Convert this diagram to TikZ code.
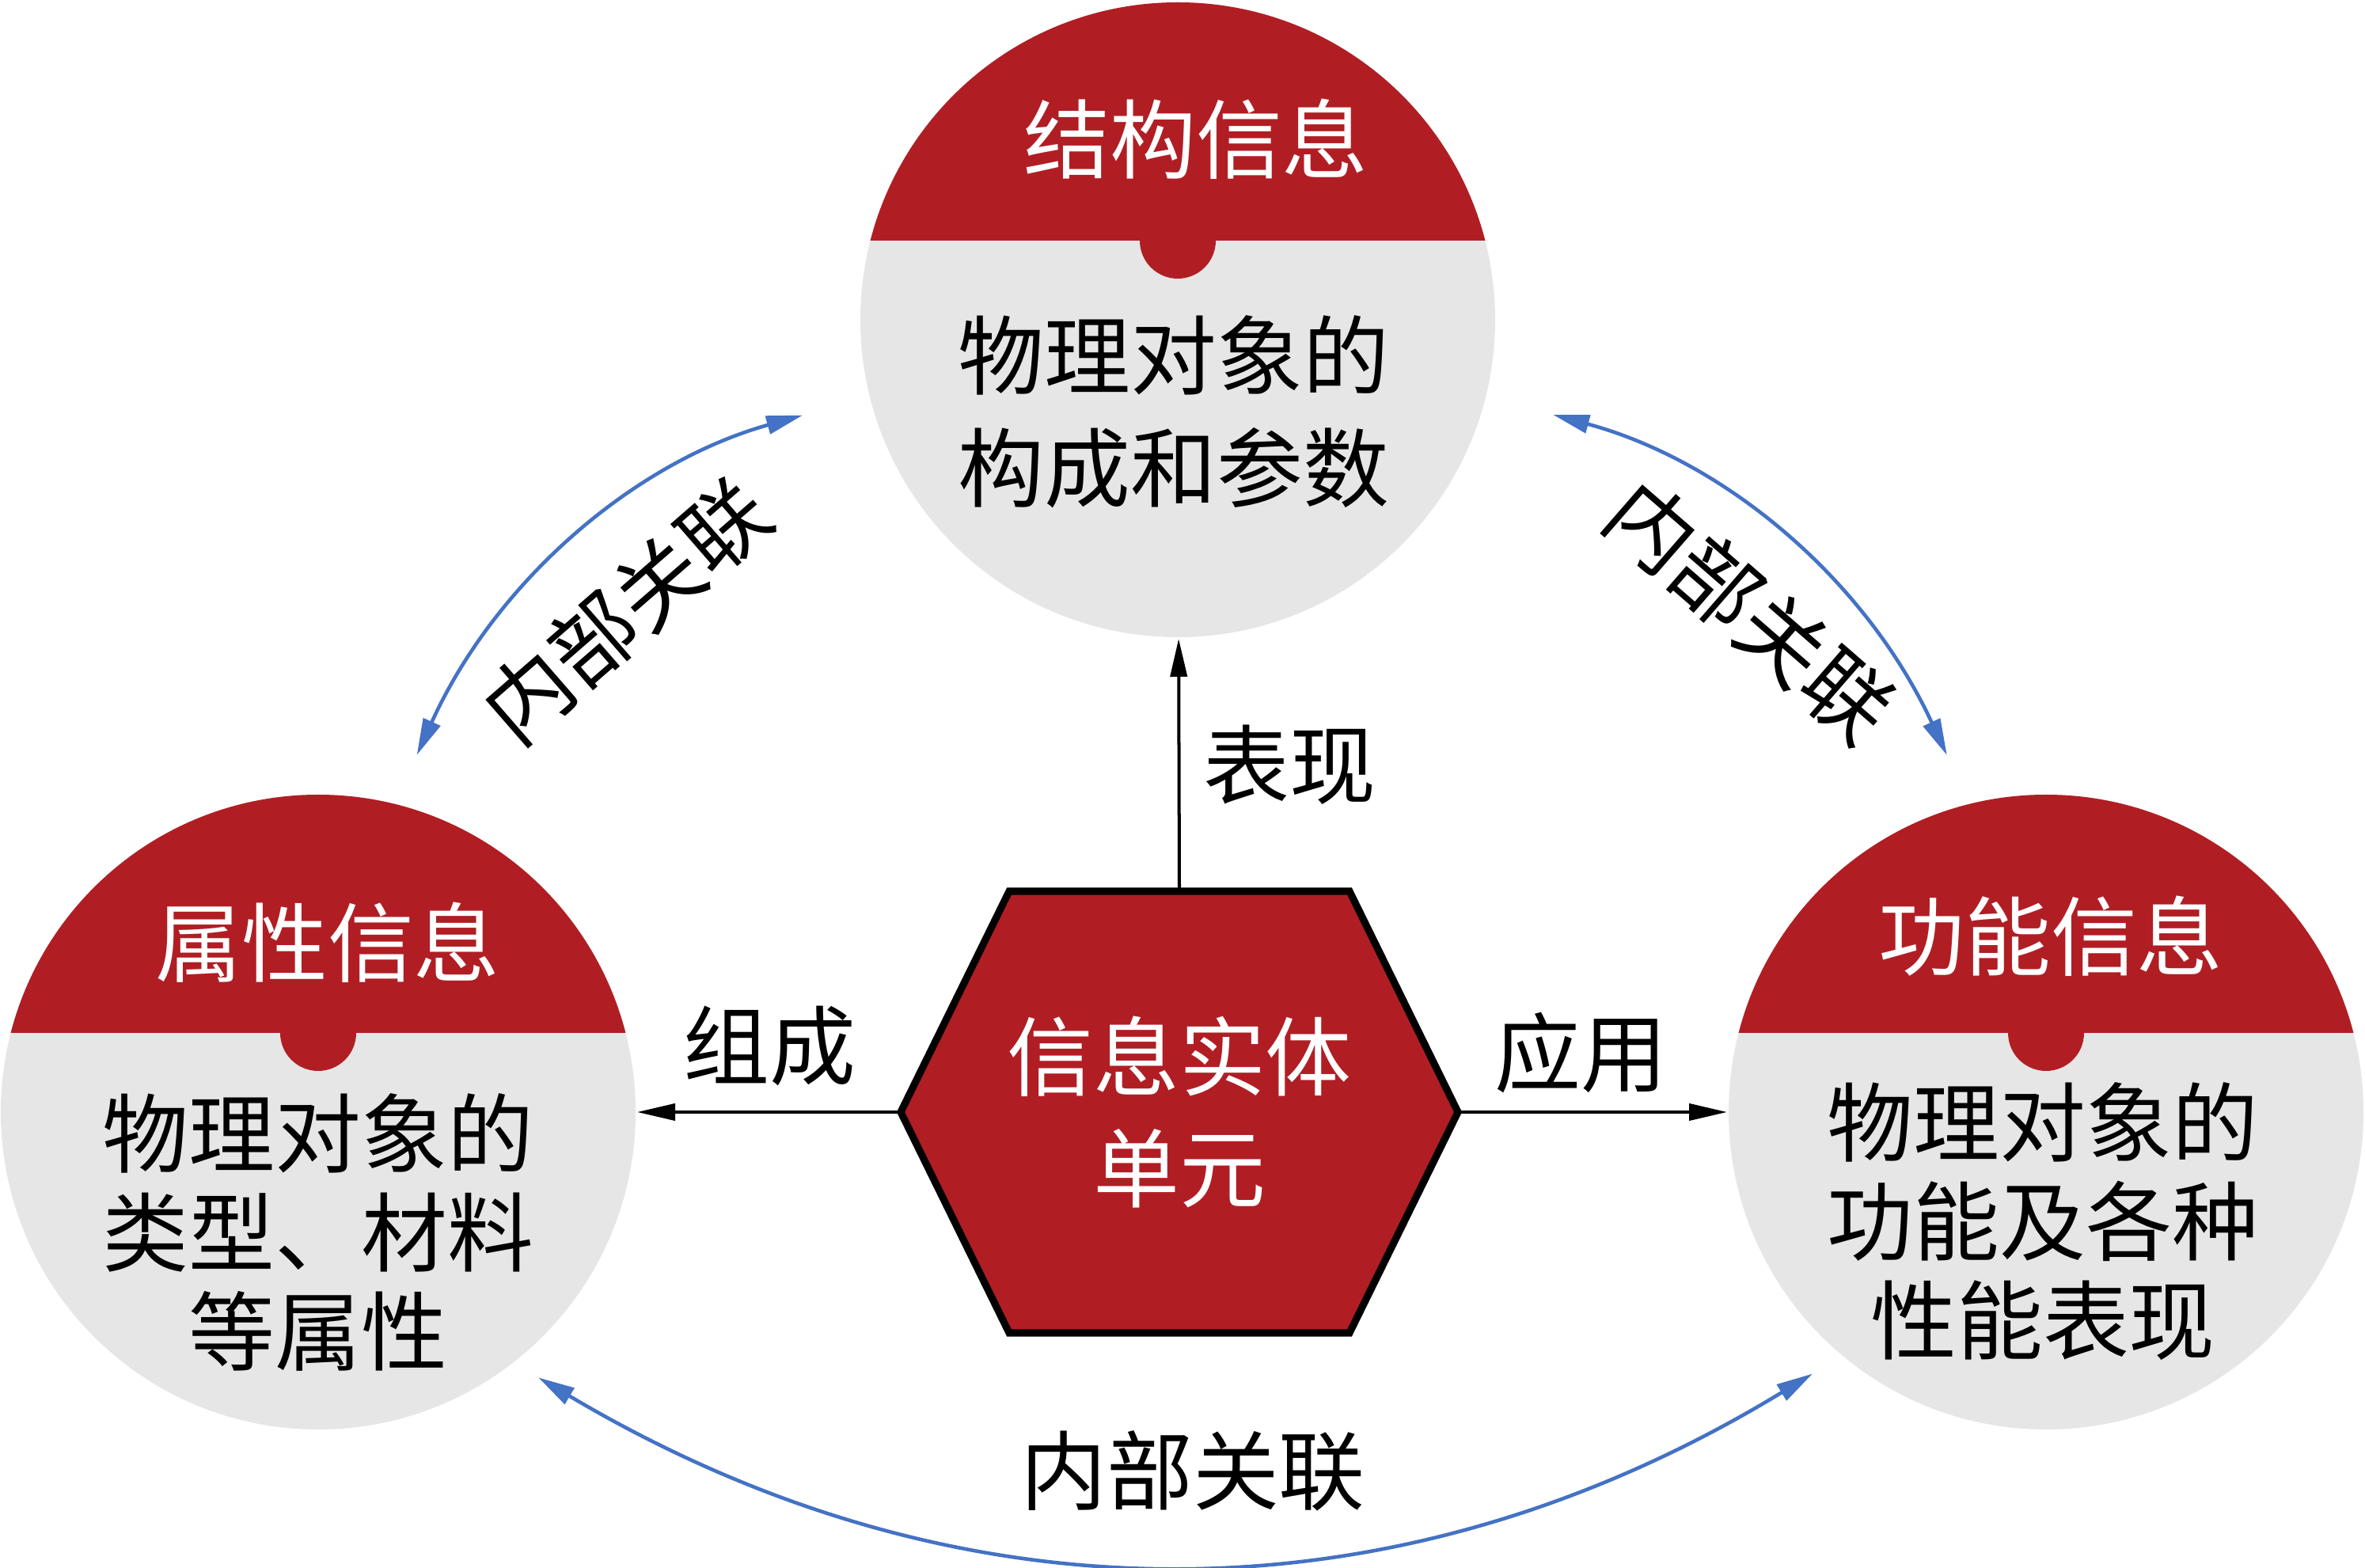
\documentclass[tikz,border=0pt]{standalone}
\usepackage{fontspec}
\newfontfamily\cjk{Noto Sans CJK SC}
\usetikzlibrary{arrows.meta}
\definecolor{infored}{HTML}{B01E24}
\definecolor{infogrey}{HTML}{E6E6E6}
\definecolor{linkblue}{HTML}{4472C4}
\tikzstyle{ic}=[shape=circle,
                fill=infogrey,
                minimum size=8.02cm,
                inner sep=0pt]
\tikzstyle{hd}=[text=white,
                inner sep=0pt,
                font=\cjk\fontsize{31}{40}\selectfont]
\tikzstyle{bd}=[align=center,
                inner sep=0pt,
                font=\cjk\fontsize{31}{35.5}\selectfont]
\tikzstyle{lb}=[inner sep=0pt,
                font=\cjk\fontsize{31}{40}\selectfont]
\tikzstyle{link}=[draw=linkblue,
                  line width=1.3pt,
                  {Triangle[length=4.6mm,width=2.3mm,fill=linkblue]}-{Triangle[length=4.6mm,width=2.3mm,fill=linkblue]}]

\begin{document}
\begin{tikzpicture}[>={Triangle[length=4.8mm,width=2.1mm]},line width=1.14pt]
\useasboundingbox (0,0) rectangle (29.88,19.80);

% information circles
\node[ic] (struct) at (14.88,15.76) {};
\node[ic] (attr) at (4.02,5.75) {};
\node[ic] (func) at (25.85,5.75) {};

% red caps with notch
\foreach \c in {struct,attr,func} {
  \begin{scope}
    \clip (\c.center) circle (4.01cm);
    \fill[infored] ([yshift=1.0cm]\c.center) ++(-4.1,0) rectangle ++(8.2,3.2);
  \end{scope}
  \fill[infored] ([yshift=1.0cm]\c.center) circle (0.48cm);
}

% headings
\node[hd] (struct-h) at ([xshift=0.23cm,yshift=2.28cm]struct.center) {结构信息};
\node[hd] (attr-h) at ([xshift=0.12cm,yshift=2.14cm]attr.center) {属性信息};
\node[hd] (func-h) at ([xshift=0.06cm,yshift=2.22cm]func.center) {功能信息};

% descriptions
\node[bd,font=\cjk\fontsize{31}{40.5}\selectfont] (struct-b) at ([xshift=-0.05cm,yshift=-1.16cm]struct.center) {物理对象的\\构成和参数};
\node[bd] (attr-b) at ([yshift=-1.52cm]attr.center) {物理对象的\\类型、材料\\等属性};
\node[bd] (func-b) at ([xshift=-0.04cm,yshift=-1.38cm]func.center) {物理对象的\\功能及各种\\性能表现};

% entity unit
\coordinate (u) at (14.90,5.75);
\coordinate (uw) at ([xshift=-3.52cm]u);
\coordinate (ue) at ([xshift=3.52cm]u);
\coordinate (un) at ([yshift=2.79cm]u);
\draw[fill=infored,line width=2.6pt] (uw) -- ++(1.37,2.79) -- ++(4.30,0) -- (ue)
  -- ++(-1.37,-2.79) -- ++(-4.30,0) -- cycle;
\node[hd,align=center] (unit) at (u) {信息实体\\单元};

% paths
\draw[->] (un) -- (struct);
\draw[->] (uw) -- (attr);
\draw[->] (ue) -- (func);
\node[lb] (show) at (16.29,10.14) {表现};
\node[lb] (form) at (9.72,6.59) {组成};
\node[lb] (apply) at (19.97,6.50) {应用};

% internal links
\draw[link,shorten <=0.66cm,shorten >=0.86cm] (attr.76) to[bend left=25] (struct.194);
\draw[link,shorten <=0.86cm,shorten >=0.66cm] (struct.-14) to[bend left=25] (func.104);
\draw[link,shorten <=0.35cm,shorten >=0.42cm] (attr.-52) to[bend right=31] (func.230);
\node[lb,rotate=41] (link-l) at (7.91,12.08) {内部关联};
\node[lb,rotate=-41] (link-r) at (22.11,12.08) {内部关联};
\node[lb] (link-b) at (15.07,1.22) {内部关联};

\end{tikzpicture}
\end{document}
